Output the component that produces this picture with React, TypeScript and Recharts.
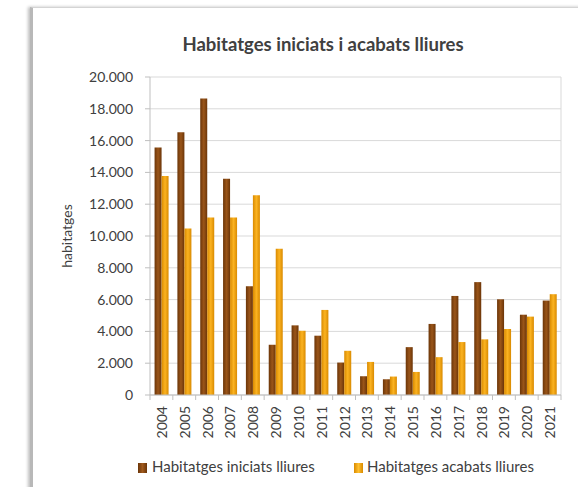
import React from 'react';
import { BarChart, Bar, XAxis, YAxis, CartesianGrid, Legend } from 'recharts';

const years = ['2004','2005','2006','2007','2008','2009','2010','2011','2012','2013','2014','2015','2016','2017','2018','2019','2020','2021'];
const iniciats = [15560,16530,18640,13600,6840,3160,4380,3730,2040,1180,990,3010,4470,6230,7100,6020,5050,5940];
const acabats = [13770,10470,11160,11160,12570,9200,4040,5350,2780,2080,1160,1450,2380,3330,3500,4150,4930,6340];
const yTicks = [0,2000,4000,6000,8000,10000,12000,14000,16000,18000,20000];
const seriesNames = ['Habitatges iniciats lliures', 'Habitatges acabats lliures'];
const title = 'Habitatges iniciats i acabats lliures';
const yLabel = 'habitatges';

const data = years.map((y, i) => ({ year: y, iniciats: iniciats[i], acabats: acabats[i] }));

const FONT = 'Lato, "Open Sans", sans-serif';
const TEXT = '#404040';
const AXIS = '#BFBFBF';

const fmt = (v: number) => v.toString().replace(/\B(?=(\d{3})+(?!\d))/g, '.');

const CHART_W = 578;
const MARGIN = { top: 77, right: 17, left: 0, bottom: 8 };
const Y_W = 150;
const STEP = (CHART_W - MARGIN.right - Y_W) / years.length;

const XTick = (props: any) => {
  const { x, y, payload, index } = props;
  const half = STEP / 2;
  return (
    <g>
      <line x1={x - half} x2={x - half} y1={y - 8} y2={y - 3} stroke={AXIS} />
      {index === years.length - 1 && (
        <line x1={x + half} x2={x + half} y1={y - 8} y2={y - 3} stroke={AXIS} />
      )}
      <text
        x={x}
        y={y + 3}
        transform={`rotate(-90 ${x} ${y + 3})`}
        textAnchor="end"
        dominantBaseline="central"
        fontSize={14}
        fontFamily={FONT}
        fill={TEXT}
      >
        {payload.value}
      </text>
    </g>
  );
};

const LegendContent = () => (
  <div style={{ position: 'relative', height: 22, fontFamily: FONT, fontSize: 15, color: TEXT }}>
    <div style={{ position: 'absolute', left: 138, top: 6, width: 9, height: 10, background: 'linear-gradient(to right, #6B3508, #A05A1E 50%, #6B3508)' }} />
    <div style={{ position: 'absolute', left: 152, top: 0, whiteSpace: 'nowrap' }}>{seriesNames[0]}</div>
    <div style={{ position: 'absolute', left: 354, top: 6, width: 9, height: 10, background: 'linear-gradient(to right, #D98A00, #FFC030 50%, #D98A00)' }} />
    <div style={{ position: 'absolute', left: 367, top: 0, whiteSpace: 'nowrap' }}>{seriesNames[1]}</div>
  </div>
);

export default function App() {
  return (
    <div style={{ position: 'absolute', left: 0, top: 0, width: 578, height: 487, overflow: 'hidden', background: '#fff' }}>
      <div
        style={{
          position: 'absolute',
          left: 30,
          top: 7,
          width: 620,
          height: 520,
          borderTop: '1px solid #D4D4D4',
          borderLeft: '3px solid #B8B8B8',
          boxShadow: '-2px 0 3px rgba(0,0,0,0.25)',
        }}
      />
      <div
        style={{
          position: 'absolute',
          left: 0,
          top: 33,
          width: 646,
          textAlign: 'center',
          fontFamily: FONT,
          fontWeight: 700,
          fontSize: 18.5,
          color: TEXT,
        }}
      >
        {title}
      </div>
      <div style={{ position: 'absolute', left: 0, top: 0 }}>
        <BarChart width={CHART_W} height={487} data={data} margin={MARGIN} barCategoryGap="20%" barGap={0}>
          <defs>
            <linearGradient id="gBrown" x1="0" y1="0" x2="1" y2="0">
              <stop offset="0%" stopColor="#6B3508" />
              <stop offset="50%" stopColor="#9A5519" />
              <stop offset="100%" stopColor="#6B3508" />
            </linearGradient>
            <linearGradient id="gOrange" x1="0" y1="0" x2="1" y2="0">
              <stop offset="0%" stopColor="#D98A00" />
              <stop offset="50%" stopColor="#FBB321" />
              <stop offset="100%" stopColor="#D98A00" />
            </linearGradient>
          </defs>
          <CartesianGrid
            stroke="#D9D9D9"
            verticalCoordinatesGenerator={(p: any) => [p.offset.left + p.offset.width]}
          />
          <XAxis
            dataKey="year"
            height={62}
            interval={0}
            axisLine={{ stroke: AXIS }}
            tickLine={false}
            tick={<XTick />}
          />
          <YAxis
            width={Y_W}
            domain={[0, 20000]}
            ticks={yTicks}
            interval={0}
            tickFormatter={fmt}
            axisLine={{ stroke: AXIS }}
            tickLine={{ stroke: AXIS }}
            tickSize={5}
            tickMargin={12}
            tick={{ fontSize: 14, fontFamily: FONT, fill: TEXT }}
            label={{
              content: () => (
                <text
                  x={66}
                  y={236}
                  transform="rotate(-90 66 236)"
                  textAnchor="middle"
                  dominantBaseline="central"
                  fontSize={14}
                  fontFamily={FONT}
                  fill={TEXT}
                >
                  {yLabel}
                </text>
              ),
            }}
          />
          <Legend verticalAlign="bottom" content={<LegendContent />} wrapperStyle={{ height: 22 }} />
          <Bar dataKey="iniciats" name={seriesNames[0]} fill="url(#gBrown)" isAnimationActive={false} />
          <Bar dataKey="acabats" name={seriesNames[1]} fill="url(#gOrange)" isAnimationActive={false} />
        </BarChart>
      </div>
    </div>
  );
}
